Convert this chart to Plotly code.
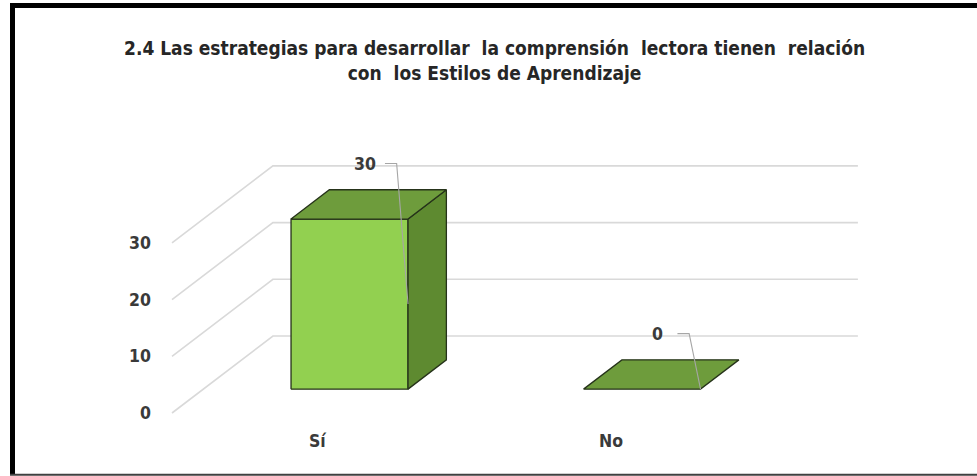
import plotly.graph_objects as go

# ---- data ----
categories = ["Sí", "No"]
values = [30, 0]
tick_values = [0, 10, 20, 30]
title_text = ("2.4 Las estrategias para desarrollar  la comprensión  lectora tienen  relación"
              "<br>con  los Estilos de Aprendizaje")

# ---- styling / projection (oblique 3D) ----
W, H = 977, 476
FONT = "DejaVu Sans Condensed, DejaVu Sans, sans-serif"
TXT = "#3A3A3A"
FRONT = "#92D050"
TOP = "#6E9C3C"
SIDE = "#5E8A30"
EDGE = "#26331A"
GRID = "#D9D9D9"

DX, DY = 0.345, 13.58      # full depth offset in (category units, value units)
T0, T1 = 0.31, 0.69        # bar depth range (fraction of floor depth)
HALF = 0.2                 # half bar width (category units)


def proj(x, v, t):
    return x + DX * t, v + DY * t


fig = go.Figure()

# back-wall gridlines and floor/side diagonals
for tv in tick_values:
    x0, y0 = proj(0, tv, 0)
    x1, y1 = proj(0, tv, 1)
    x2, y2 = proj(len(categories), tv, 1)
    fig.add_trace(go.Scatter(x=[x0, x1, x2], y=[y0, y1, y2], mode="lines",
                             line=dict(color=GRID, width=1.6),
                             hoverinfo="skip", showlegend=False))

# bars
for i, (cat, v) in enumerate(zip(categories, values)):
    c = i + 0.5
    l, r = c - HALF, c + HALF
    faces = [
        (FRONT, [proj(l, 0, T0), proj(r, 0, T0), proj(r, v, T0), proj(l, v, T0)]),
        (SIDE, [proj(r, 0, T0), proj(r, 0, T1), proj(r, v, T1), proj(r, v, T0)]),
        (TOP, [proj(l, v, T0), proj(r, v, T0), proj(r, v, T1), proj(l, v, T1)]),
    ]
    for col, pts in faces:
        if v == 0 and col != TOP:
            continue
        xs = [p[0] for p in pts] + [pts[0][0]]
        ys = [p[1] for p in pts] + [pts[0][1]]
        fig.add_trace(go.Scatter(x=xs, y=ys, mode="lines", fill="toself",
                                 fillcolor=col, line=dict(color=EDGE, width=1.3),
                                 hoverinfo="skip", showlegend=False))

    # data label with leader line
    lx, ly = c + 0.16, v + 14.0
    ex, ey = proj(r, v / 2, T0)
    fig.add_trace(go.Scatter(x=[lx + 0.068, lx + 0.108, ex], y=[ly, ly, ey],
                             mode="lines", line=dict(color="#A6A6A6", width=1.1),
                             hoverinfo="skip", showlegend=False))
    fig.add_annotation(x=lx, y=ly, text=f"<b>{v}</b>", showarrow=False,
                       font=dict(family=FONT, size=17.5, color=TXT),
                       xanchor="center", yanchor="middle")

    # category label
    fig.add_annotation(x=c, y=-4.9, text=f"<b>{cat}</b>", showarrow=False,
                       font=dict(family=FONT, size=17.5, color=TXT),
                       xanchor="center", yanchor="middle")

# title
fig.add_annotation(x=495 / W, y=1 - 60 / H, xref="paper", yref="paper",
                   text=f"<b>{title_text}</b>", showarrow=False, align="center",
                   font=dict(family=FONT, size=19, color="#262626"),
                   xanchor="center", yanchor="middle")

# outer frame
fig.add_shape(type="line", xref="paper", yref="paper", x0=10 / W, x1=1, y0=1 - 5.5 / H, y1=1 - 5.5 / H,
              line=dict(color="black", width=5))
fig.add_shape(type="line", xref="paper", yref="paper", x0=12.5 / W, x1=12.5 / W, y0=1 - 3 / H, y1=1 / H,
              line=dict(color="black", width=5))
fig.add_shape(type="line", xref="paper", yref="paper", x0=10 / W, x1=1, y0=1.2 / H, y1=1.2 / H,
              line=dict(color="#404040", width=2))

x_left_px = 160
fig.update_layout(
    width=W, height=H, margin=dict(l=0, r=0, t=0, b=0),
    paper_bgcolor="white", plot_bgcolor="white",
    xaxis=dict(domain=[x_left_px / W, 1],
               range=[(x_left_px - 172) / 292.5, (W - 172) / 292.5],
               showgrid=False, zeroline=False, showticklabels=False, showline=False,
               fixedrange=True),
    yaxis=dict(domain=[0, 1], range=[(413 - H) / 5.67, 413 / 5.67],
               tickmode="array", tickvals=tick_values,
               ticktext=[f"<b>{t}</b>" for t in tick_values],
               tickfont=dict(family=FONT, size=17.5, color=TXT),
               showgrid=False, zeroline=False, showline=False, ticks="",
               ticklabelstandoff=8, fixedrange=True),
    showlegend=False,
)

fig.write_html("out.html", config={"displayModeBar": False},
               post_script="document.body.style.margin='0';")
